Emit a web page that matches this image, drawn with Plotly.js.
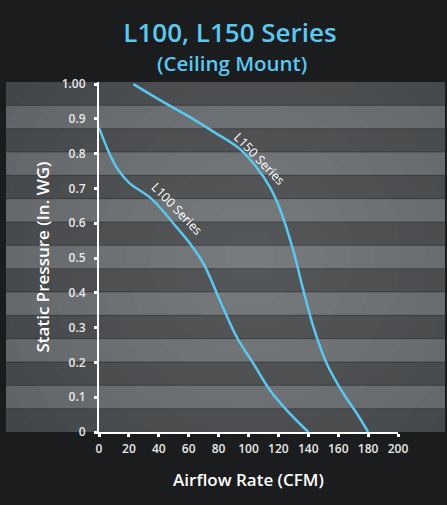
<!DOCTYPE html>
<html>
<head>
<meta charset="utf-8">
<script src="https://cdn.plot.ly/plotly-3.0.1.min.js"></script>
<style>
  html, body { margin: 0; padding: 0; background: #1b1c1e; }
  #chart { width: 447px; height: 505px; }
</style>
</head>
<body>
<div id="chart"></div>
<script>
// ---- Data ----
const l100Cfm = [0, 6.2, 11.8, 20, 35.2, 52, 61, 70, 80.9, 92.1, 103.2, 114.4, 125.5, 140];
const l100Sp  = [0.875, 0.808, 0.760, 0.717, 0.670, 0.588, 0.541, 0.483, 0.378, 0.273, 0.197, 0.120, 0.063, 0];

const l150Cfm = [23, 42, 60, 77, 94.3, 105.5, 114.4, 121, 130, 136.7, 143.4, 152.3, 163.4, 172.4, 180];
const l150Sp  = [1.0, 0.951, 0.907, 0.862, 0.813, 0.760, 0.703, 0.641, 0.521, 0.407, 0.302, 0.197, 0.111, 0.054, 0];

const xTickVals = [0, 20, 40, 60, 80, 100, 120, 140, 160, 180, 200];
const yTickVals = [0, 0.1, 0.2, 0.3, 0.4, 0.5, 0.6, 0.7, 0.8, 0.9, 1.0];
const yTickText = ['0', '0.1', '0.2', '0.3', '0.4', '0.5', '0.6', '0.7', '0.8', '0.9', '1.00'];

const seriesNames = ['L100 Series', 'L150 Series'];
const titleText = 'L100, L150 Series';
const subtitleText = '(Ceiling Mount)';
const xTitle = 'Airflow Rate (CFM)';
const yTitle = 'Static Pressure (In. WG)';

// ---- Styling ----
const FONT = '"Open Sans", Lato, sans-serif';
const BLUE = '#5bc8f0';
const BG = '#1b1c1e';

// pixel -> paper helpers (plot area: x 99..398, y 82..432)
const P = px => (px - 99) / 299;
const Q = py => (432 - py) / 350;

const shapes = [];
// base of striped panel
shapes.push({type: 'rect', xref: 'paper', yref: 'paper', layer: 'below',
  x0: P(6), x1: P(445), y0: 0, y1: 1, fillcolor: '#5c6065', line: {width: 0}});
// radial light
const cx = 250, cy = 255, N = 12, R = 300;
for (let i = 0; i < N; i++) {
  const r = R * (1 - i / N);
  shapes.push({type: 'circle', xref: 'paper', yref: 'paper', layer: 'below',
    x0: P(cx - r), x1: P(cx + r), y0: Q(cy + r), y1: Q(cy - r),
    fillcolor: 'rgba(255,255,255,0.018)', line: {width: 0}});
}
// masks outside the panel
const maskStyle = {type: 'rect', xref: 'paper', yref: 'paper', layer: 'below', fillcolor: BG, line: {width: 0}};
shapes.push(Object.assign({}, maskStyle, {x0: P(-20), x1: P(470), y0: 1, y1: Q(-20)}));
shapes.push(Object.assign({}, maskStyle, {x0: P(-20), x1: P(470), y0: Q(525), y1: 0}));
shapes.push(Object.assign({}, maskStyle, {x0: P(-20), x1: P(6), y0: 0, y1: 1}));
shapes.push(Object.assign({}, maskStyle, {x0: P(445), x1: P(470), y0: 0, y1: 1}));
// dark bands
for (let i = 0; i < 15; i += 2) {
  shapes.push({type: 'rect', xref: 'paper', yref: 'paper', layer: 'below',
    x0: P(6), x1: P(445), y0: 1 - (i + 1) / 15, y1: 1 - i / 15,
    fillcolor: 'rgba(0,0,0,0.29)', line: {width: 0}});
}
// separators
for (let k = 1; k < 15; k++) {
  shapes.push({type: 'line', xref: 'paper', yref: 'paper', layer: 'below',
    x0: P(6), x1: P(445), y0: 1 - k / 15, y1: 1 - k / 15,
    line: {color: 'rgba(0,0,0,0.32)', width: 1}});
}

const lineStyle = {color: BLUE, width: 2.5, shape: 'spline', smoothing: 1};
const traces = [
  {x: l100Cfm, y: l100Sp, name: seriesNames[0], mode: 'lines', line: lineStyle, hoverinfo: 'skip'},
  {x: l150Cfm, y: l150Sp, name: seriesNames[1], mode: 'lines', line: lineStyle, hoverinfo: 'skip'}
];

const axisCommon = {
  showgrid: false, zeroline: false, showline: true, linecolor: '#ffffff', linewidth: 2,
  ticks: 'outside', ticklen: 3, tickwidth: 3, tickcolor: '#ffffff',
  tickfont: {family: FONT, size: 12, color: '#e8e8e8', weight: 600},
  fixedrange: true
};

const layout = {
  width: 447, height: 505,
  paper_bgcolor: BG, plot_bgcolor: 'rgba(0,0,0,0)',
  margin: {l: 99, r: 49, t: 82, b: 73},
  showlegend: false,
  font: {family: FONT, color: '#ffffff'},
  title: {text: titleText, font: {family: FONT, size: 26, color: BLUE, weight: 600},
    xref: 'container', x: 230 / 447, xanchor: 'center',
    yref: 'container', y: 1 - 33 / 505, yanchor: 'middle'},
  xaxis: Object.assign({}, axisCommon, {
    range: [0, 200], tickmode: 'array', tickvals: xTickVals, ticklabelstandoff: 2,
    title: {text: xTitle, font: {family: FONT, size: 17, color: '#ffffff', weight: 600}, standoff: 18}
  }),
  yaxis: Object.assign({}, axisCommon, {
    range: [0, 1.006], tickmode: 'array', tickvals: yTickVals, ticktext: yTickText, ticklabelstandoff: 6,
    title: {text: yTitle, font: {family: FONT, size: 17, color: '#ffffff', weight: 600}, standoff: 8}
  }),
  shapes: shapes,
  annotations: [
    {text: subtitleText, xref: 'paper', yref: 'paper', x: P(232), y: Q(63),
     xanchor: 'center', yanchor: 'middle', showarrow: false,
     font: {family: FONT, size: 20.5, color: BLUE, weight: 600}},
    {text: seriesNames[1], x: 107, y: 0.785, xref: 'x', yref: 'y', showarrow: false,
     textangle: 46, font: {family: FONT, size: 12.5, color: '#ffffff'}},
    {text: seriesNames[0], x: 52, y: 0.643, xref: 'x', yref: 'y', showarrow: false,
     textangle: 46, font: {family: FONT, size: 12.5, color: '#ffffff'}}
  ]
};

Plotly.newPlot('chart', traces, layout, {displayModeBar: false, staticPlot: true});
</script>
</body>
</html>
